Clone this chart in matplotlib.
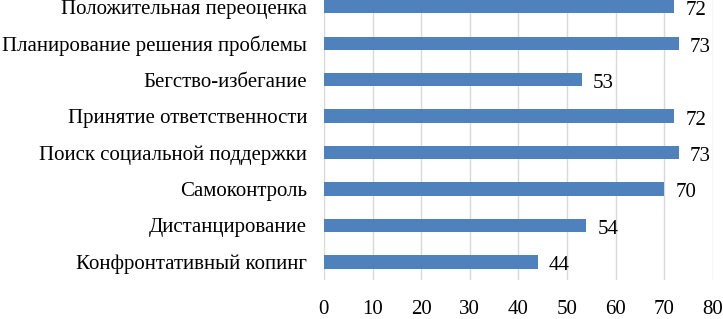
import matplotlib.pyplot as plt

categories = ['Конфронтативный копинг', 'Дистанцирование', 'Самоконтроль',
              'Поиск социальной поддержки', 'Принятие ответственности',
              'Бегство-избегание', 'Планирование решения проблемы',
              'Положительная переоценка']
values = [44, 54, 70, 73, 72, 53, 73, 72]
xticks = [0, 10, 20, 30, 40, 50, 60, 70, 80]

plt.rcParams['font.family'] = ['Liberation Serif', 'DejaVu Serif']

fig = plt.figure(figsize=(7.23, 3.19), dpi=100)
ax = fig.add_axes([0.448, 0.122, 0.538, 0.914])

y = range(len(categories))
ax.barh(y, values, height=0.365, color='#4F81BD', zorder=3)
for i, v in enumerate(values):
    ax.text(v + 2.3, i - 0.04, str(v), va='center_baseline', ha='left', fontsize=15)

ax.set_xlim(0, 80)
ax.set_ylim(-0.5, len(categories) - 0.5)
ax.set_xticks(xticks)
ax.set_yticks(list(y))
ax.set_yticklabels(categories, fontsize=15)
ax.tick_params(axis='x', labelsize=15, length=0, pad=14)
ax.tick_params(axis='y', length=0, pad=12)
ax.grid(axis='x', color='#d9d9d9', linewidth=1, zorder=0)
for s in ax.spines.values():
    s.set_visible(False)

fig.savefig('out.png', dpi=100)
